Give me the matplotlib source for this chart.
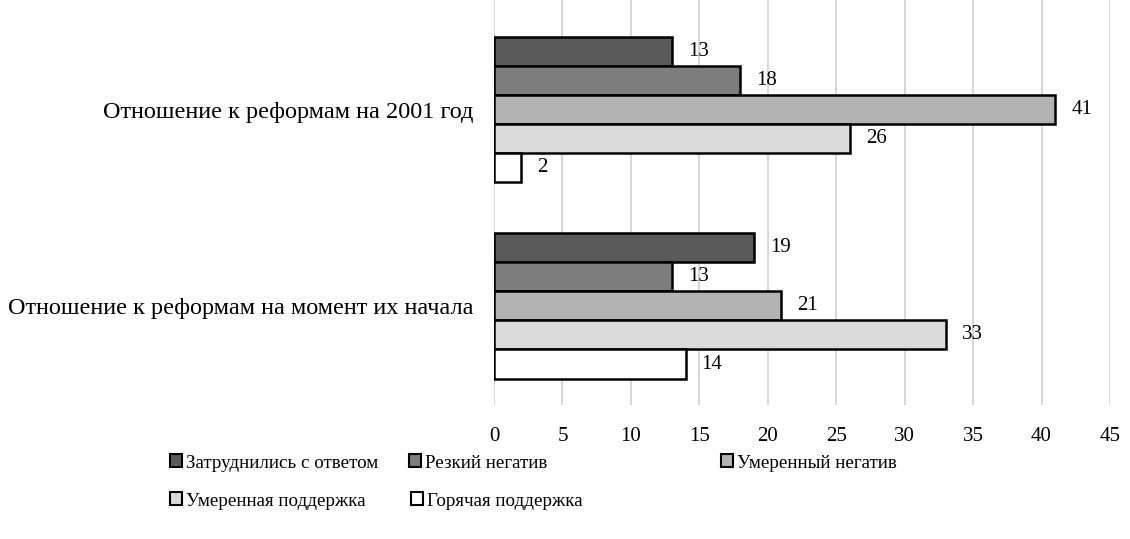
import numpy as np
import matplotlib.pyplot as plt
from matplotlib.patches import Patch

plt.rcParams['font.family'] = ['Liberation Serif', 'DejaVu Serif']

categories = ['Отношение к реформам на момент их начала', 'Отношение к реформам на 2001 год']
series = ['Затруднились с ответом', 'Резкий негатив', 'Умеренный негатив',
          'Умеренная поддержка', 'Горячая поддержка']
values = {
    'Затруднились с ответом': [19, 13],
    'Резкий негатив': [13, 18],
    'Умеренный негатив': [21, 41],
    'Умеренная поддержка': [33, 26],
    'Горячая поддержка': [14, 2],
}
colors = ['#5a5a5a', '#7d7d7d', '#b3b3b3', '#dadada', '#ffffff']
xticks = [0, 5, 10, 15, 20, 25, 30, 35, 40, 45]

fig = plt.figure(figsize=(11.3, 5.39), dpi=100)
ax = fig.add_axes([494/1130, 1-405/539, 616/1130, 405/539])

y = np.arange(len(categories))
h = 0.148
for i, s in enumerate(series):
    off = (2 - i) * h
    bars = ax.barh(y + off, values[s], height=h, color=colors[i],
                   edgecolor='black', linewidth=1.8, zorder=3)
    for b, v in zip(bars, values[s]):
        ax.annotate(str(v), (v, b.get_y() + b.get_height()/2),
                    xytext=(16, 0), textcoords='offset pixels',
                    va='center', ha='left', fontsize=15)

ax.set_xlim(0, 45)
ax.set_ylim(-0.505, 1.56)
ax.set_xticks(xticks)
ax.set_yticks(y)
ax.set_yticklabels(categories, fontsize=17.5)
ax.tick_params(axis='both', length=0)
ax.tick_params(axis='x', pad=16, labelsize=15)
ax.tick_params(axis='y', pad=15)
ax.grid(axis='x', color='#d0d0d0', linewidth=1.2, zorder=0)
for sp in ax.spines.values():
    sp.set_visible(False)

# legend entries placed like the original (irregular spacing)
legend_pos = [(170, 463), (409, 463), (721, 463), (170, 501), (411, 501)]
for i, s in enumerate(series):
    px, py = legend_pos[i]
    fig.legend(handles=[Patch(facecolor=colors[i], edgecolor='black', linewidth=1.5)],
               labels=[s], loc='center left',
               bbox_to_anchor=(px/1130, 1-py/539), frameon=False,
               fontsize=13.7, handlelength=0.65, handleheight=0.65,
               handletextpad=0.2, borderpad=0, borderaxespad=0)

fig.savefig('out.png', dpi=100)
